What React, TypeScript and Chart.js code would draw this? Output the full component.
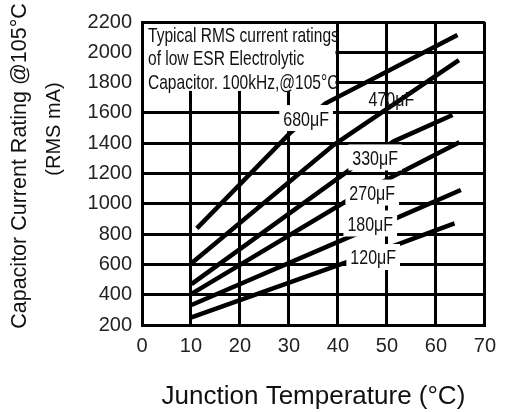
import React, { useEffect, useRef } from "react";
import { Chart, registerables } from "chart.js";

Chart.register(...registerables);

// ---- data ----
const xTickValues = [0, 10, 20, 30, 40, 50, 60, 70];
const yTickValues = [200, 400, 600, 800, 1000, 1200, 1400, 1600, 1800, 2000, 2200];

const seriesNames = ["680μF", "470μF", "330μF", "270μF", "180μF", "120μF"];

const temp680 = [11.2, 30.5, 37.5, 64.4];
const amps680 = [838, 1476, 1663, 2114];

const temp470 = [10.1, 39.1, 64.7];
const amps470 = [607, 1388, 1949];

const temp330 = [10.1, 42.8, 51.5, 63.4];
const amps330 = [470, 1234, 1414, 1586];

const temp270 = [10.1, 42.1, 51.1, 64.8];
const amps270 = [405, 1025, 1179, 1406];

const temp180 = [10.1, 42.5, 51.8, 65.1];
const amps180 = [332, 783, 904, 1091];

const temp120 = [10.1, 42.1, 51.8, 63.8];
const amps120 = [250, 618, 728, 871];

// label anchors (data units) for each curve
const labelTemp = [33.5, 50.9, 47.6, 47.0, 46.6, 47.2];
const labelAmps = [1566, 1698, 1306, 1074, 870, 649];
const labelBoxed = [true, false, true, true, true, true];

const noteLines = [
  "Typical RMS current ratings",
  "of low ESR Electrolytic",
  "Capacitor. 100kHz,@105°C",
];
const noteRightTemp = 39.5;
const noteBottomAmps = 1745;

const xTitle = "Junction Temperature (°C)";
const yTitleLines = ["Capacitor Current Rating @105°C", "(RMS mA)"];

const FONT = "'Liberation Sans', Arial, Helvetica, sans-serif";

const allTemps = [temp680, temp470, temp330, temp270, temp180, temp120];
const allAmps = [amps680, amps470, amps330, amps270, amps180, amps120];

const overlay = {
  id: "overlay",
  afterDatasetsDraw(chart: any) {
    const ctx: CanvasRenderingContext2D = chart.ctx;
    const xs = chart.scales.x;
    const ys = chart.scales.y;
    const area = chart.chartArea;

    // note box
    ctx.save();
    const bx0 = area.left + 2;
    const by0 = area.top + 2;
    const bx1 = xs.getPixelForValue(noteRightTemp);
    const by1 = ys.getPixelForValue(noteBottomAmps);
    ctx.fillStyle = "#fff";
    ctx.fillRect(bx0, by0, bx1 - bx0, by1 - by0);
    ctx.fillStyle = "#111";
    ctx.font = `21px ${FONT}`;
    ctx.textBaseline = "alphabetic";
    ctx.textAlign = "left";
    noteLines.forEach((t, i) => {
      ctx.save();
      ctx.translate(area.left + 6, area.top + 19.5 + i * 23.5);
      ctx.scale(0.74, 1);
      ctx.fillText(t, 0, 0);
      ctx.restore();
    });
    ctx.restore();

    // curve labels
    ctx.save();
    ctx.font = `20px ${FONT}`;
    ctx.textBaseline = "alphabetic";
    ctx.textAlign = "center";
    const sx = 0.8;
    seriesNames.forEach((name, i) => {
      const cx = xs.getPixelForValue(labelTemp[i]);
      const cy = ys.getPixelForValue(labelAmps[i]);
      const w = ctx.measureText(name).width * sx;
      if (labelBoxed[i]) {
        ctx.fillStyle = "#fff";
        ctx.fillRect(cx - w / 2 - 4, cy - 13, w + 8, 26);
      }
      ctx.fillStyle = "#111";
      ctx.save();
      ctx.translate(cx, cy + 7.5);
      ctx.scale(sx, 1);
      ctx.fillText(name, 0, 0);
      ctx.restore();
    });
    ctx.restore();

    // y title
    ctx.save();
    ctx.fillStyle = "#111";
    ctx.textAlign = "center";
    ctx.textBaseline = "middle";
    ctx.font = `21.5px ${FONT}`;
    ctx.save();
    ctx.translate(20, 166);
    ctx.rotate(-Math.PI / 2);
    ctx.fillText(yTitleLines[0], 0, 0);
    ctx.restore();
    ctx.font = `20px ${FONT}`;
    ctx.save();
    ctx.translate(54, 129);
    ctx.rotate(-Math.PI / 2);
    ctx.fillText(yTitleLines[1], 0, 0);
    ctx.restore();
    ctx.restore();
  },
};

export default function App() {
  const ref = useRef<HTMLCanvasElement>(null);
  useEffect(() => {
    document.body.style.margin = "0";
    const datasets = seriesNames.map((name, i) => ({
      label: name,
      data: allTemps[i].map((t, j) => ({ x: t, y: allAmps[i][j] })),
      showLine: true,
      borderColor: "#000",
      backgroundColor: "#000",
      borderWidth: 4.5,
      pointRadius: 0,
      fill: false,
      tension: 0,
      borderCapStyle: "butt" as const,
    }));
    const chart = new Chart(ref.current!, {
      type: "scatter",
      data: { datasets },
      options: {
        animation: false,
        responsive: false,
        maintainAspectRatio: false,
        layout: { padding: { top: 22, right: 12, bottom: 0, left: 0 } },
        plugins: { legend: { display: false }, tooltip: { enabled: false } },
        scales: {
          x: {
            type: "linear",
            min: 0,
            max: 70,
            afterBuildTicks: (s: any) => {
              s.ticks = xTickValues.map((v) => ({ value: v }));
            },
            afterFit: (s: any) => {
              s.height = 87;
            },
            grid: { color: "#000", lineWidth: 3, drawTicks: false },
            border: { color: "#000", width: 3 },
            ticks: {
              padding: 9,
              color: "#222",
              font: { family: FONT, size: 20 },
              maxRotation: 0,
              autoSkip: false,
              callback: (v: any) => String(v),
            },
            title: {
              display: true,
              text: xTitle,
              color: "#111",
              font: { family: FONT, size: 26 },
              padding: { top: 0, bottom: 0 },
            },
          },
          y: {
            type: "linear",
            min: 200,
            max: 2200,
            afterBuildTicks: (s: any) => {
              s.ticks = yTickValues.map((v) => ({ value: v }));
            },
            afterFit: (s: any) => {
              s.width = 142;
            },
            grid: { color: "#000", lineWidth: 3, drawTicks: false },
            border: { color: "#000", width: 3 },
            ticks: {
              padding: 10,
              color: "#222",
              font: { family: FONT, size: 20 },
              autoSkip: false,
              callback: (v: any) => String(v),
            },
          },
        },
      },
      plugins: [overlay],
    });
    return () => chart.destroy();
  }, []);
  return (
    <div style={{ position: "fixed", left: 0, top: 0, width: 505, height: 412, background: "#fff" }}>
      <canvas ref={ref} width={505} height={412} style={{ width: 505, height: 412, display: "block" }} />
    </div>
  );
}
